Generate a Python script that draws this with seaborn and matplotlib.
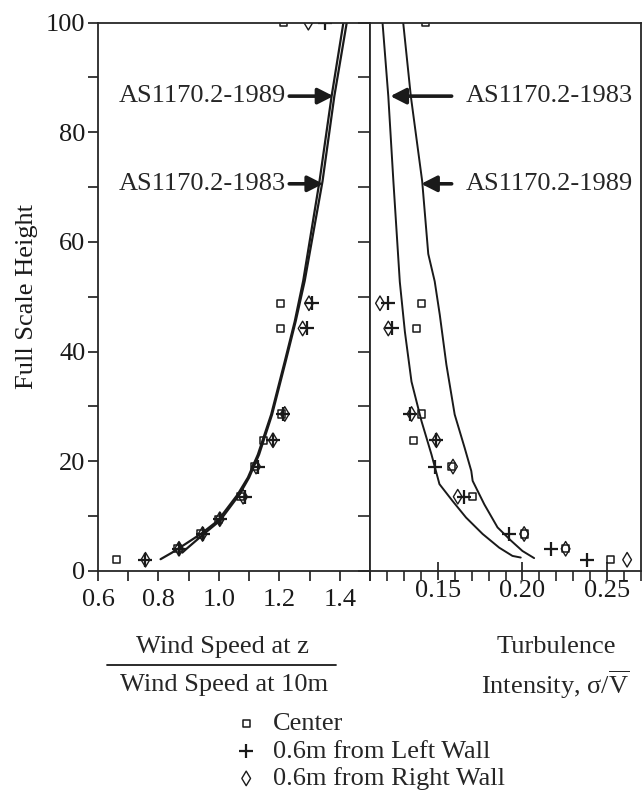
import numpy as np
import pandas as pd
import matplotlib
matplotlib.use("Agg")
import matplotlib.pyplot as plt
from matplotlib.ticker import MultipleLocator, FixedLocator
from matplotlib.lines import Line2D
import seaborn as sns

nan = np.nan
# ---------------- data ----------------
heights = [2, 4, 6.7, 9.4, 13.5, 19, 23.8, 28.6, 44.2, 48.8, 100]
speed_center = [0.662, 0.862, 0.940, 0.998, 1.073, 1.118, 1.148, 1.207, 1.204, 1.204, 1.214]
speed_left = [0.757, 0.868, 0.946, 1.003, 1.087, 1.131, 1.179, 1.212, 1.293, 1.309, 1.351]
speed_right = [0.757, 0.868, 0.946, 1.003, 1.080, 1.123, 1.179, 1.218, 1.277, 1.298, 1.296]

ti_center = [0.2520, 0.2255, 0.2010, nan, 0.1706, 0.1580, 0.1355, 0.1404, 0.1375, 0.1404, 0.1426]
ti_left = [0.2382, 0.2167, 0.1922, nan, 0.1657, 0.1482, 0.1492, 0.1335, 0.1228, 0.1208, nan]
ti_right = [0.2618, 0.2255, 0.2010, nan, 0.1618, 0.1590, 0.1492, 0.1345, 0.1208, 0.1159, nan]

speed_z_1983 = [2.1, 3.3, 4.0, 6.7, 9.1, 13.9, 17.0, 21.2, 28.5, 38.2, 45.5, 52.9, 71.1, 86.6, 100]
speed_1983 = [0.807, 0.845, 0.865, 0.940, 0.996, 1.062, 1.096, 1.129, 1.173, 1.218, 1.251, 1.279, 1.333, 1.373, 1.412]
speed_z_1989 = [3.3, 4.0, 6.7, 9.1, 13.9, 17.0, 21.2, 28.5, 38.2, 45.5, 52.9, 71.1, 86.6, 100]
speed_1989 = [0.879, 0.893, 0.950, 1.003, 1.068, 1.100, 1.133, 1.176, 1.221, 1.254, 1.284, 1.343, 1.382, 1.423]

ti_z_1983 = [2.4, 2.7, 4.2, 6.7, 9.7, 12.7, 15.8, 21.2, 27.3, 34.5, 43.6, 52.7, 71.1, 86.6, 100]
ti_1983 = [0.1990, 0.1941, 0.1863, 0.1765, 0.1667, 0.1588, 0.1510, 0.1463, 0.1404, 0.1345, 0.1306, 0.1276, 0.1238, 0.1208, 0.1174]
ti_z_1989 = [2.3, 3.6, 5.5, 7.9, 12.1, 16.4, 18.2, 22.4, 28.5, 37.6, 46.7, 52.8, 57.8, 71.1, 86.6, 100]
ti_1989 = [0.2069, 0.2000, 0.1932, 0.1853, 0.1775, 0.1706, 0.1698, 0.1659, 0.1600, 0.1551, 0.1512, 0.1482, 0.1444, 0.1408, 0.1341, 0.1296]

labels = ["Center", "0.6m from Left Wall", "0.6m from Right Wall"]
speed_ticks = [0.6, 0.8, 1.0, 1.2, 1.4]
ti_ticks = [0.15, 0.20, 0.25]
height_ticks = [0, 20, 40, 60, 80, 100]

# ---------------- style ----------------
sns.set_theme(style="ticks")
plt.rcParams["font.family"] = ["Liberation Serif", "DejaVu Serif"]
plt.rcParams["mathtext.fontset"] = "custom"
plt.rcParams["mathtext.rm"] = "Liberation Serif"
plt.rcParams["mathtext.it"] = "Liberation Serif"
plt.rcParams["axes.linewidth"] = 1.3
FS = 19

W, H = 642, 808
fig = plt.figure(figsize=(W / 100, H / 100), dpi=100)
ybot, ytop = 570.7, 22.7
ax1 = fig.add_axes([98 / W, 1 - ybot / H, (370 - 98) / W, (ybot - ytop) / H])
ax2 = fig.add_axes([370 / W, 1 - ybot / H, (641 - 370) / W, (ybot - ytop) / H])

# ---------------- curves ----------------
sns.lineplot(x=speed_1983, y=speed_z_1983, sort=False, estimator=None, color="k", lw=1.6, ax=ax1)
sns.lineplot(x=speed_1989, y=speed_z_1989, sort=False, estimator=None, color="k", lw=1.6, ax=ax1)
sns.lineplot(x=ti_1983, y=ti_z_1983, sort=False, estimator=None, color="k", lw=1.4, ax=ax2)
sns.lineplot(x=ti_1989, y=ti_z_1989, sort=False, estimator=None, color="k", lw=1.4, ax=ax2)

# ---------------- points ----------------
def points(ax, xs, lab, marker):
    if marker == "s":
        sns.scatterplot(x=xs, y=heights, marker="s", s=26, facecolor="none",
                        edgecolor="k", linewidth=1.1, ax=ax, label=lab, legend=False)
    elif marker == "+":
        sns.scatterplot(x=xs, y=heights, marker="+", s=110, color="k",
                        linewidth=1.6, ax=ax, label=lab, legend=False)
    else:
        sns.scatterplot(x=xs, y=heights, marker="d", s=55, facecolor="none",
                        edgecolor="k", linewidth=1.0, ax=ax, label=lab, legend=False)

for ax, series in ((ax1, (speed_center, speed_left, speed_right)),
                   (ax2, (ti_center, ti_left, ti_right))):
    for xs, lab, mk in zip(series, labels, ["s", "+", "d"]):
        points(ax, xs, lab, mk)

for ax in (ax1, ax2):
    if ax.get_legend() is not None:
        ax.get_legend().remove()

# ---------------- axes ----------------
ax1.set_xlim(0.6, 1.5)
ax2.set_xlim(0.11, 0.27)
for ax in (ax1, ax2):
    ax.set_ylim(0, 100)
    ax.set_xlabel("")
    ax.set_ylabel("")
    for sp in ax.spines.values():
        sp.set_visible(True)
        sp.set_linewidth(1.3)

ax1.xaxis.set_major_locator(FixedLocator(speed_ticks))
ax1.set_xticklabels([f"{v:.1f}" for v in speed_ticks])
ax1.xaxis.set_minor_locator(MultipleLocator(0.1))
ax1.yaxis.set_major_locator(FixedLocator(height_ticks))
ax1.set_yticklabels([str(v) for v in height_ticks])
ax1.yaxis.set_minor_locator(MultipleLocator(10))
ax1.tick_params(axis="both", which="both", direction="out", length=7, width=1.2,
                labelsize=FS, colors="k")
ax1.tick_params(axis="x", which="both", pad=6)
ax1.tick_params(axis="y", which="both", pad=2, right=False)

ax2.xaxis.set_major_locator(FixedLocator(ti_ticks))
ax2.set_xticklabels([f"{v:.2f}" for v in ti_ticks])
ax2.xaxis.set_minor_locator(MultipleLocator(0.01))
ax2.yaxis.set_major_locator(MultipleLocator(20))
ax2.yaxis.set_minor_locator(MultipleLocator(10))
ax2.tick_params(axis="x", which="minor", direction="out", length=7, width=1.2)
ax2.tick_params(axis="x", which="major", direction="inout", length=13, width=1.2,
                labelsize=FS, pad=0, colors="k")
ax2.tick_params(axis="y", which="both", direction="out", length=9, width=1.2,
                left=True, labelleft=False, right=False)

ax1.set_ylabel("Full Scale Height", fontsize=FS, color="k")
ax1.yaxis.set_label_coords(-0.22, 0.5)

# ---------------- annotations ----------------
arrow = dict(arrowstyle="-|>,head_length=0.55,head_width=0.28", lw=2.6, color="k",
             shrinkA=0, shrinkB=0, mutation_scale=17)
ax1.annotate("AS1170.2-1989", xy=(1.379, 86.6), xytext=(1.222, 86.6), ha="right",
             va="center", fontsize=FS, arrowprops=arrow)
ax1.annotate("AS1170.2-1983", xy=(1.345, 70.6), xytext=(1.222, 70.6), ha="right",
             va="center", fontsize=FS, arrowprops=arrow)
arrow2 = dict(arrow, shrinkA=8)
ax2.annotate("AS1170.2-1983", xy=(0.122, 86.6), xytext=(0.1667, 86.6), ha="left",
             va="center", fontsize=FS, arrowprops=arrow2)
ax2.annotate("AS1170.2-1989", xy=(0.1402, 70.6), xytext=(0.1667, 70.6), ha="left",
             va="center", fontsize=FS, arrowprops=arrow2)

# ---------------- axis titles ----------------
fig.text(222 / W, 1 - 647 / H, "Wind Speed at z", ha="center", va="center", fontsize=FS)
fig.add_artist(Line2D([107 / W, 336 / W], [1 - 665 / H, 1 - 665 / H], color="k", lw=1.3))
fig.text(224 / W, 1 - 685 / H, "Wind Speed at 10m", ha="center", va="center", fontsize=FS)
fig.text(556 / W, 1 - 647 / H, "Turbulence", ha="center", va="center", fontsize=FS)
fig.text(555 / W, 1 - 685 / H, r"Intensity, $\sigma/\overline{\mathrm{V}}$", ha="center",
         va="center", fontsize=FS)

# ---------------- legend ----------------
handles, labs = ax1.get_legend_handles_labels()
fig.legend(handles, labs, loc="upper left", bbox_to_anchor=(233 / W, 1 - 712 / H),
           frameon=False, borderpad=0, handlelength=1.0, handletextpad=0.5,
           labelspacing=0.15, fontsize=FS, scatterpoints=1, borderaxespad=0)

fig.savefig("out.png", dpi=100)
